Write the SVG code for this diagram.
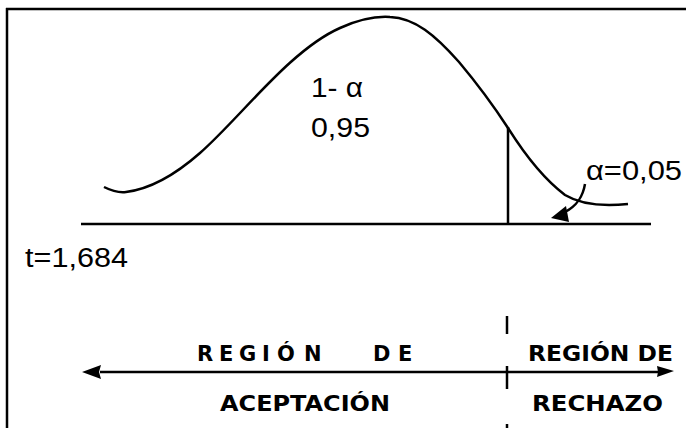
<svg xmlns="http://www.w3.org/2000/svg" width="686" height="428" viewBox="0 0 686 428">
<defs>
<style>
.ln{stroke:#000;stroke-width:2.5;fill:none;stroke-linecap:butt}
.t{font-family:"Liberation Sans",Arial,sans-serif;font-size:27px;fill:#000}
.b{font-family:"DejaVu Sans","Liberation Sans",sans-serif;font-weight:700;font-size:21px;fill:#000}
</style>
</defs>
<rect width="686" height="428" fill="#fff"/>
<g id="frame">
<line class="ln" x1="6" y1="9" x2="686" y2="9"/>
<line class="ln" x1="7" y1="8" x2="7" y2="428"/>
</g>
<g id="curve">
<path class="ln" d="M104,187 C112,191 118,193 126,192 C150,189 175,175 200,153 C240,118 290,50 340,28 C360,19 375,16 390,17 C415,18 435,35 459,62 C480,87 495,108 508,128 C525,155 545,180 565,195 C580,204 600,207 628,204"/>
<line class="ln" x1="508" y1="127" x2="508" y2="224"/>
<line class="ln" x1="81" y1="224" x2="651" y2="224"/>
</g>
<g id="labels-top">
<text class="t" x="311" y="97" textLength="52" lengthAdjust="spacingAndGlyphs">1- α</text>
<text class="t" x="311" y="137" textLength="59" lengthAdjust="spacingAndGlyphs">0,95</text>
<text class="t" x="586" y="180" textLength="96" lengthAdjust="spacingAndGlyphs">α=0,05</text>
<text class="t" x="25" y="267" textLength="103" lengthAdjust="spacingAndGlyphs">t=1,684</text>
</g>
<g id="connectors">
<path class="ln" d="M585,184 C583,196 578,205 565,212"/>
<path d="M551,218 L566,206 L569,222 Z" fill="#000"/>
<line class="ln" x1="100" y1="372" x2="660" y2="372"/>
<path d="M82,372 L101,365 L99,372 L101,379 Z" fill="#000"/>
<path d="M674,371 L657,366 L658,372 L657,377 Z" fill="#000"/>
<line class="ln" x1="507" y1="316" x2="507" y2="334"/>
<line class="ln" x1="507" y1="366" x2="507" y2="389"/>
<line class="ln" x1="507" y1="424" x2="507" y2="428"/>
</g>
<g id="labels-bottom">
<text class="b" y="361"><tspan x="197">R</tspan><tspan x="219">E</tspan><tspan x="239">G</tspan><tspan x="262">I</tspan><tspan x="277">Ó</tspan><tspan x="304">N</tspan><tspan x="373">D</tspan><tspan x="398">E</tspan></text>
<text class="b" x="528" y="361" textLength="145" lengthAdjust="spacingAndGlyphs">REGIÓN DE</text>
<text class="b" x="220" y="411" textLength="170" lengthAdjust="spacingAndGlyphs">ACEPTACIÓN</text>
<text class="b" x="532" y="411" textLength="131" lengthAdjust="spacingAndGlyphs">RECHAZO</text>
</g>
</svg>
